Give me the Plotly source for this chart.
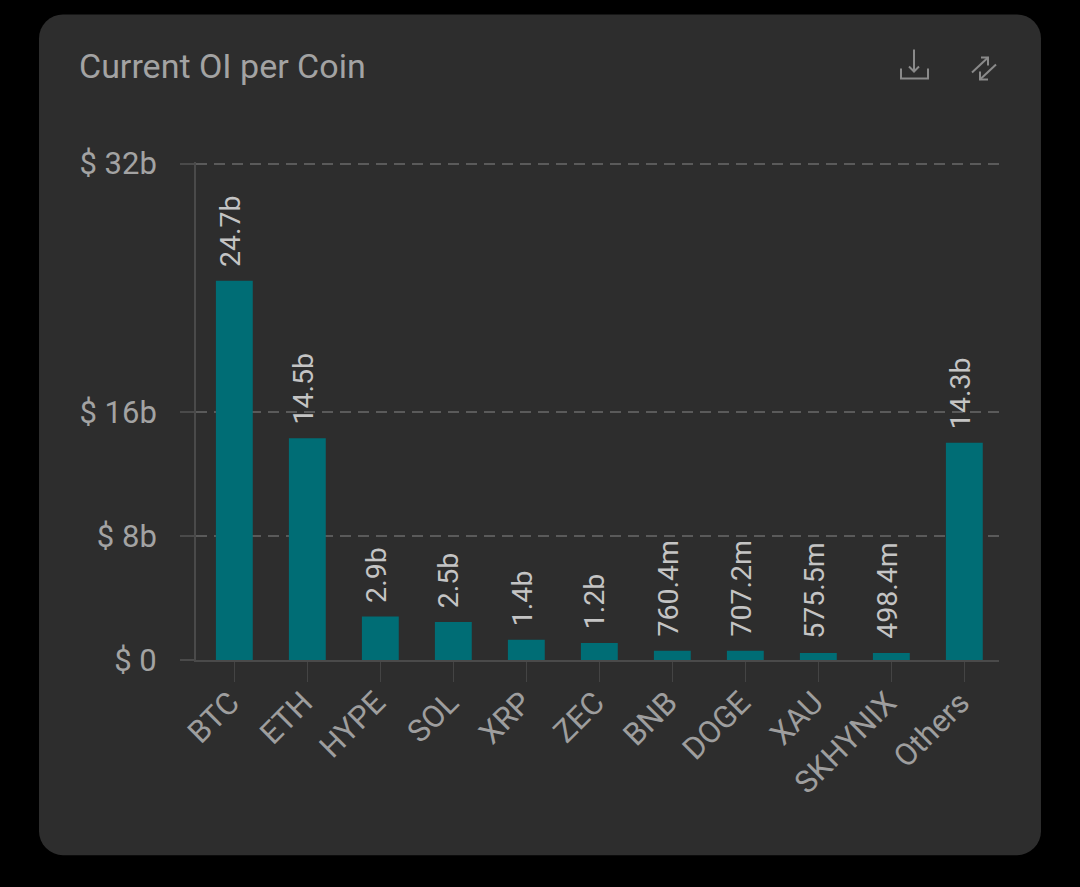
import math

import plotly.graph_objects as go

# Values
coins = ['BTC', 'ETH', 'HYPE', 'SOL', 'XRP', 'ZEC', 'BNB', 'DOGE', 'XAU', 'SKHYNIX', 'Others']
oi_values = [24.45, 14.3, 2.8, 2.45, 1.3, 1.1, 0.6, 0.6, 0.45, 0.45, 14.0]
oi_labels = ['24.7b', '14.5b', '2.9b', '2.5b', '1.4b', '1.2b', '760.4m', '707.2m', '575.5m', '498.4m', '14.3b']
y_ticks = [0, 8, 16, 32]
y_tick_labels = ['$ 0', '$ 8b', '$ 16b', '$ 32b']

W, H = 1080, 887
LEFT, RIGHT, TOP, BOTTOM = 196, 999, 162.4, 660


# Pixel position to paper coordinates, for the card and the icons
def px_path(points, close=False):
    parts = []
    for i, (x, y) in enumerate(points):
        px = (x - LEFT) / (RIGHT - LEFT)
        py = (BOTTOM - y) / (BOTTOM - TOP)
        parts.append(f"{'M' if i == 0 else 'L'} {px:.5f} {py:.5f}")
    return ' '.join(parts) + (' Z' if close else '')


def card_path(x0, y0, x1, y1, r):
    corners = [(x1 - r, y0 + r, -90), (x1 - r, y1 - r, 0), (x0 + r, y1 - r, 90), (x0 + r, y0 + r, 180)]
    pts = []
    for cx, cy, start in corners:
        for s in range(9):
            a = math.radians(start + 90 * s / 8)
            pts.append((cx + r * math.cos(a), cy + r * math.sin(a)))
    return px_path(pts, close=True)


fig = go.Figure()

fig.add_trace(go.Bar(
    x=coins,
    y=oi_values,
    width=0.505,
    marker=dict(color='#006d75', line=dict(width=0)),
    hoverinfo='skip',
))

# Value labels above the bars
for coin, val, label in zip(coins, oi_values, oi_labels):
    fig.add_annotation(
        x=coin, y=val, text=label, showarrow=False,
        textangle=-90, yanchor='bottom', xanchor='center',
        yshift=12, xshift=-4,
        font=dict(family='Roboto', size=28.5, color='#c4c4c4'),
    )

# Title
fig.add_annotation(
    xref='paper', yref='paper', x=(77 - LEFT) / (RIGHT - LEFT), y=(BOTTOM - 66) / (BOTTOM - TOP),
    text='Current OI per Coin', showarrow=False, xanchor='left', yanchor='middle',
    font=dict(family='Roboto', size=34, color='#a3a3a3'),
)

# Card behind the chart
shapes = [dict(type='path', xref='paper', yref='paper', layer='below',
               path=card_path(39, 15, 1041, 855, 24),
               fillcolor='#2d2d2d', line=dict(width=0))]

# Download and switch icons
icon_lines = [
    [(914, 50), (914, 72)],
    [(909, 67), (914, 72), (919, 67)],
    [(901, 69), (901, 79), (928, 79), (928, 69)],
    [(972, 73), (988, 58)],
    [(981, 58), (988, 58), (988, 66)],
    [(996, 65), (980, 80)],
    [(980, 72), (980, 80), (988, 80)],
]
for pts in icon_lines:
    shapes.append(dict(type='path', xref='paper', yref='paper', path=px_path(pts),
                       line=dict(color='#8a8a8a', width=2)))

fig.update_layout(
    width=W,
    height=H,
    margin=dict(l=LEFT, r=W - RIGHT, t=TOP, b=H - BOTTOM, pad=0),
    paper_bgcolor='#000000',
    plot_bgcolor='rgba(0,0,0,0)',
    showlegend=False,
    shapes=shapes,
    font=dict(family='Roboto'),
)

fig.update_xaxes(
    type='category',
    range=[-0.525, 10.475],
    showgrid=False,
    zeroline=False,
    showline=True,
    linecolor='#4a4a4a',
    linewidth=2,
    ticks='outside',
    ticklen=20,
    tickwidth=1,
    tickcolor='#444444',
    tickangle=-45,
    ticklabelstandoff=-10,
    ticklabelshift=-4,
    tickfont=dict(family='Roboto', size=31, color='#9e9e9e'),
)

fig.update_yaxes(
    range=[0, 32.1],
    tickvals=y_ticks,
    ticktext=y_tick_labels,
    showgrid=True,
    gridcolor='#5a5a5a',
    griddash='11px,7px',
    gridwidth=2,
    zeroline=False,
    showline=True,
    linecolor='#4a4a4a',
    linewidth=2,
    ticks='outside',
    ticklen=14,
    tickwidth=2,
    tickcolor='#4a4a4a',
    ticklabelstandoff=17,
    tickfont=dict(family='Roboto', size=31, color='#a3a3a3'),
)

fig.write_html("out.html", config={'displayModeBar': False},
               post_script="document.body.style.margin='0';document.body.style.background='#000';")
